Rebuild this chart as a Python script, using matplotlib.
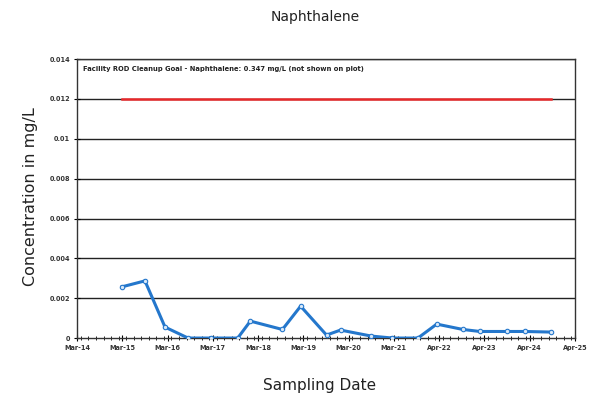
import matplotlib
matplotlib.use("Agg")
import matplotlib.pyplot as plt
import matplotlib.dates as mdates
import pandas as pd

sample_dates = ["2015-03-28", "2015-09-30", "2016-03-10", "2016-09-12", "2017-03-20",
                "2017-10-18", "2018-01-28", "2018-10-14", "2019-03-10", "2019-10-05",
                "2020-01-26", "2020-09-30", "2021-03-20", "2021-10-12", "2022-03-13",
                "2022-10-11", "2023-02-24", "2023-09-30", "2024-02-20", "2024-09-23"]
concentration = [0.00257, 0.00287, 0.00055, 0.0, 0.0,
                 0.0, 0.00085, 0.00043, 0.0016, 0.00015,
                 0.0004, 0.0001, 0.0, 0.0, 0.0007,
                 0.00043, 0.00033, 0.00033, 0.00033, 0.0003]
goal_value = 0.012
tick_dates = ["2014-03-31", "2015-03-31", "2016-03-31", "2017-03-31", "2018-03-31",
              "2019-03-31", "2020-03-31", "2021-03-31", "2022-04-01", "2023-04-01",
              "2024-04-01", "2025-04-01"]
tick_labels = ["Mar-14", "Mar-15", "Mar-16", "Mar-17", "Mar-18", "Mar-19", "Mar-20",
               "Mar-21", "Apr-22", "Apr-23", "Apr-24", "Apr-25"]
y_ticks = [0, 0.002, 0.004, 0.006, 0.008, 0.01, 0.012, 0.014]
y_labels = ["0", "0.002", "0.004", "0.006", "0.008", "0.01", "0.012", "0.014"]

dates = pd.to_datetime(sample_dates)
ticks = pd.to_datetime(tick_dates)

fig = plt.figure(figsize=(6.07, 3.94), dpi=100)
ax = fig.add_axes([0.127, 0.142, 0.820, 0.708])

for yv in y_ticks[1:]:
    ax.axhline(yv, color="#222222", linewidth=1.0, zorder=1)

ax.plot([dates[0], dates[-1]], [goal_value, goal_value], color="#e8282a", linewidth=1.8, zorder=3)
ax.plot(dates, concentration, color="#2477cc", linewidth=2.2, marker="o", markersize=3.2,
        markerfacecolor="#d8e8f8", markeredgecolor="#2477cc", markeredgewidth=0.8, zorder=4)

ax.set_xlim(ticks[0], ticks[-1])
ax.set_ylim(0, 0.014)
ax.set_xticks(ticks)
ax.set_xticklabels(tick_labels, fontsize=4.7, fontweight="bold", color="#333333")
ax.xaxis.set_minor_locator(mdates.MonthLocator(bymonth=[1, 3, 5, 7, 9, 11]))
ax.set_yticks(y_ticks)
ax.set_yticklabels(y_labels, fontsize=4.7, fontweight="bold", color="#333333")
ax.tick_params(axis="x", which="major", direction="inout", length=4, width=0.8, pad=3)
ax.tick_params(axis="x", which="minor", direction="inout", length=3, width=0.6)
ax.tick_params(axis="y", which="major", direction="inout", length=4, width=0.8, pad=3)
for s in ax.spines.values():
    s.set_color("#333333")
    s.set_linewidth(1.0)

ax.text(0.012, 0.975, "Facility ROD Cleanup Goal - Naphthalene: 0.347 mg/L (not shown on plot)",
        transform=ax.transAxes, fontsize=4.9, fontweight="bold", va="top", ha="left", color="#222222")

fig.text(0.519, 0.958, "Naphthalene", fontsize=10, ha="center", va="center", color="#222222")
fig.text(0.527, 0.022, "Sampling Date", fontsize=11, ha="center", va="center", color="#222222")
fig.text(0.05, 0.50, "Concentration in mg/L", fontsize=11.5, rotation=90, ha="center", va="center", color="#222222")

fig.savefig("out.png", dpi=100)
